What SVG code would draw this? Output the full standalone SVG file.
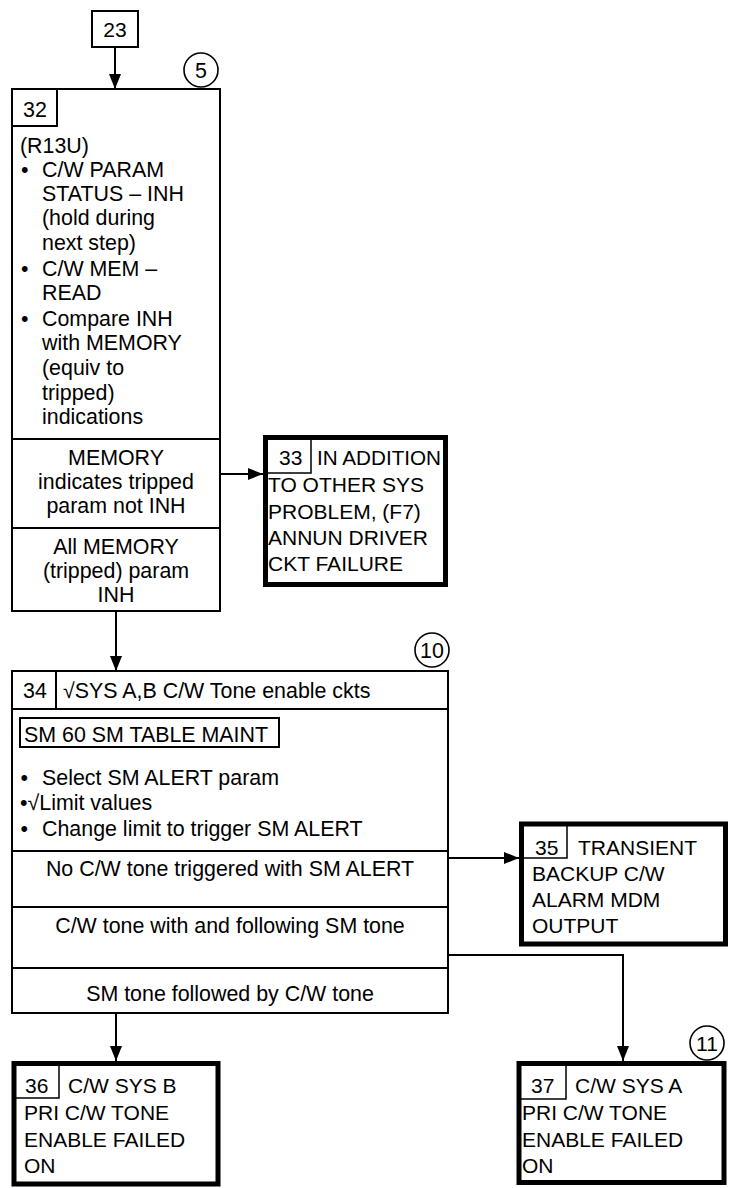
<svg xmlns="http://www.w3.org/2000/svg" width="731" height="1188" viewBox="0 0 731 1188">
<defs>
<style>
text{font-family:"Liberation Sans",Arial,sans-serif;font-size:21px;fill:#000}
.big text{font-size:21.4px}
.c{text-anchor:middle}
.box{fill:#fff;stroke:#000;stroke-width:2}
.thick{fill:#fff;stroke:#000;stroke-width:5}
.ln{fill:none;stroke:#000;stroke-width:2}
.thin{fill:none;stroke:#000;stroke-width:1.5}
.con{fill:none;stroke:#000;stroke-width:2}
.circ{fill:#fff;stroke:#000;stroke-width:1.6}
</style>
<marker id="ah" viewBox="0 0 15 12" refX="15" refY="6" markerWidth="15" markerHeight="12" orient="auto" markerUnits="userSpaceOnUse"><path d="M0,0 L15,6 L0,12 z" fill="#000"/></marker>
</defs>
<rect width="731" height="1188" fill="#fff"/>

<g id="connectors">
<path class="con" d="M115,47 V89" marker-end="url(#ah)"/>
<path class="con" d="M220,474 H263" marker-end="url(#ah)"/>
<path class="con" d="M116,611 V671" marker-end="url(#ah)"/>
<path class="con" d="M448,858 H519" marker-end="url(#ah)"/>
<path class="con" d="M448,955 H623 V1061" marker-end="url(#ah)"/>
<path class="con" d="M116,1013 V1061" marker-end="url(#ah)"/>
</g>

<g id="n23">
<rect class="box" x="92" y="11" width="46" height="36"/>
<text class="c" x="115" y="37">23</text>
</g>

<g id="n32" class="big">
<rect class="box" x="12" y="89" width="208" height="522"/>
<path class="ln" d="M12,126 H57 V89"/>
<text x="23" y="117">32</text>
<circle class="circ" cx="201" cy="70" r="17"/>
<text class="c" x="201" y="77.5">5</text>
<text x="20" y="153">(R13U)</text>
<text x="21" y="177">•</text><text x="42" y="177">C/W PARAM</text>
<text x="42" y="201">STATUS – INH</text>
<text x="42" y="225">(hold during</text>
<text x="42" y="250">next step)</text>
<text x="21" y="276">•</text><text x="42" y="276">C/W MEM –</text>
<text x="42" y="300">READ</text>
<text x="21" y="326">•</text><text x="42" y="326">Compare INH</text>
<text x="42" y="350">with MEMORY</text>
<text x="42" y="375">(equiv to</text>
<text x="42" y="400">tripped)</text>
<text x="42" y="424">indications</text>
<line class="ln" x1="12" y1="439" x2="220" y2="439"/>
<text class="c" x="116" y="465">MEMORY</text>
<text class="c" x="116" y="489">indicates tripped</text>
<text class="c" x="116" y="513">param not INH</text>
<line class="ln" x1="12" y1="528" x2="220" y2="528"/>
<text class="c" x="116" y="554">All MEMORY</text>
<text class="c" x="116" y="578">(tripped) param</text>
<text class="c" x="116" y="602">INH</text>
</g>

<g id="n33">
<rect class="thick" x="265.5" y="437.5" width="180" height="147"/>
<path class="thin" d="M268,473 H311 V437"/>
<text x="279" y="465">33</text>
<text x="317" y="465" textLength="124" lengthAdjust="spacingAndGlyphs">IN ADDITION</text>
<text x="268" y="492">TO OTHER SYS</text>
<text x="268" y="519">PROBLEM, (F7)</text>
<text x="268" y="545">ANNUN DRIVER</text>
<text x="268" y="571">CKT FAILURE</text>
</g>

<g id="n34" class="big">
<rect class="box" x="12" y="671" width="436" height="342"/>
<line class="ln" x1="12" y1="709" x2="448" y2="709"/>
<line class="ln" x1="56" y1="671" x2="56" y2="709"/>
<text x="23" y="698">34</text>
<text x="63" y="698">√SYS A,B C/W Tone enable ckts</text>
<circle class="circ" cx="432" cy="650" r="17"/>
<text class="c" x="432" y="657.5">10</text>
<rect class="box" x="20" y="718" width="259" height="29"/>
<text x="24" y="742">SM 60 SM TABLE MAINT</text>
<text x="20.5" y="785">•</text><text x="42" y="785">Select SM ALERT param</text>
<text x="20" y="810">•√Limit values</text>
<text x="20.5" y="836">•</text><text x="42" y="836">Change limit to trigger SM ALERT</text>
<line class="ln" x1="12" y1="851" x2="448" y2="851"/>
<text class="c" x="230" y="876">No C/W tone triggered with SM ALERT</text>
<line class="ln" x1="12" y1="907" x2="448" y2="907"/>
<text class="c" x="230" y="933">C/W tone with and following SM tone</text>
<line class="ln" x1="12" y1="968" x2="448" y2="968"/>
<text class="c" x="230" y="1001">SM tone followed by C/W tone</text>
</g>

<g id="n35">
<rect class="thick" x="521.5" y="824" width="204" height="120"/>
<path class="thin" d="M524,858 H567 V822"/>
<text x="535" y="855">35</text>
<text x="578" y="855">TRANSIENT</text>
<text x="532" y="881">BACKUP C/W</text>
<text x="532" y="907">ALARM MDM</text>
<text x="532" y="933">OUTPUT</text>
</g>

<g id="n36">
<rect class="thick" x="14" y="1063.5" width="204" height="120.5"/>
<path class="thin" d="M16,1098 H59 V1066"/>
<text x="25" y="1093">36</text>
<text x="68" y="1093">C/W SYS B</text>
<text x="24" y="1120">PRI C/W TONE</text>
<text x="24" y="1147">ENABLE FAILED</text>
<text x="24" y="1173">ON</text>
</g>

<g id="n37">
<rect class="thick" x="519" y="1063.5" width="205" height="119"/>
<path class="thin" d="M521,1099 H566 V1066"/>
<circle class="circ" cx="707" cy="1043" r="17"/>
<text class="c" x="707" y="1050.5">11</text>
<text x="531" y="1093">37</text>
<text x="575" y="1093">C/W SYS A</text>
<text x="522" y="1120">PRI C/W TONE</text>
<text x="522" y="1147">ENABLE FAILED</text>
<text x="522" y="1173">ON</text>
</g>
</svg>
